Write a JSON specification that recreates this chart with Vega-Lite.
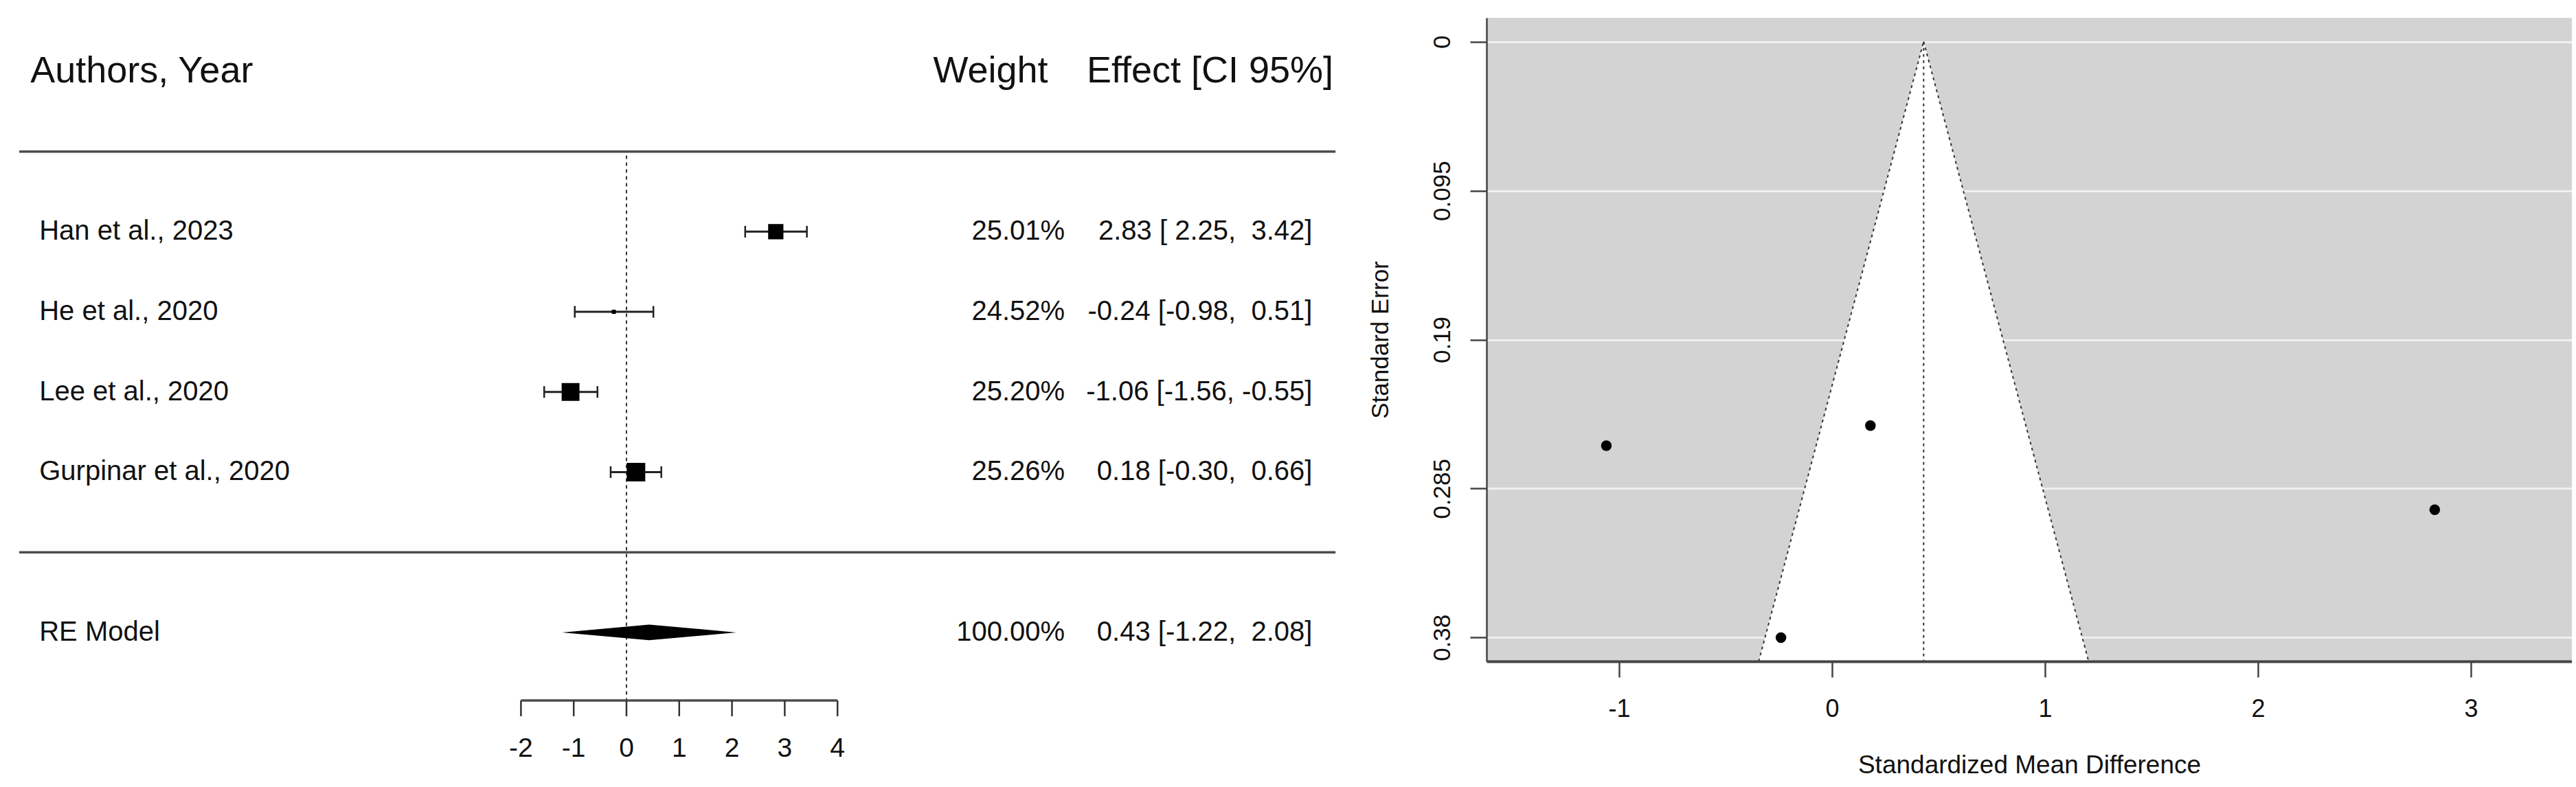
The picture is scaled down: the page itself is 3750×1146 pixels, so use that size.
{
  "$schema": "https://vega.github.io/schema/vega-lite/v6.json",
  "padding": {"top": 26, "left": 0, "right": 0, "bottom": 0},
  "background": "#ffffff",
  "datasets": {
    "studies": [
      {"study": "Han et al., 2023", "row": 4, "yi": 2.83, "lb": 2.25, "ub": 3.42, "sei": 0.2985, "weight": 25.01, "wlabel": "25.01%", "ci": "2.83 [\u00a02.25,\u00a0\u00a03.42]"},
      {"study": "He et al., 2020", "row": 3, "yi": -0.24, "lb": -0.98, "ub": 0.51, "sei": 0.3801, "weight": 24.52, "wlabel": "24.52%", "ci": "-0.24 [-0.98,\u00a0\u00a00.51]"},
      {"study": "Lee et al., 2020", "row": 2, "yi": -1.06, "lb": -1.56, "ub": -0.55, "sei": 0.2577, "weight": 25.20, "wlabel": "25.20%", "ci": "-1.06 [-1.56, -0.55]"},
      {"study": "Gurpinar et al., 2020", "row": 1, "yi": 0.18, "lb": -0.30, "ub": 0.66, "sei": 0.2449, "weight": 25.26, "wlabel": "25.26%", "ci": "0.18 [-0.30,\u00a0\u00a00.66]"}
    ],
    "summary": [
      {"label": "RE Model", "row": -1, "est": 0.43, "lb": -1.22, "ub": 2.08, "wlabel": "100.00%", "ci": "0.43 [-1.22,\u00a0\u00a02.08]"}
    ],
    "headers": [
      {"col": "study", "label": "Authors, Year"},
      {"col": "weight", "label": "Weight"},
      {"col": "effect", "label": "Effect [CI 95%]"}
    ],
    "ticks": [
      {"t": -2, "label": "-2"}, {"t": -1, "label": "-1"}, {"t": 0, "label": "0"}, {"t": 1, "label": "1"},
      {"t": 2, "label": "2"}, {"t": 3, "label": "3"}, {"t": 4, "label": "4"}
    ],
    "funnel": [
      {"se": 0, "lo": 0.43, "hi": 0.43},
      {"se": 0.3952, "lo": -0.3446, "hi": 1.2046}
    ]
  },
  "hconcat": [
    {
      "width": 1950,
      "height": 1120,
      "view": {"stroke": null},
      "layer": [
        {
          "data": {"name": "headers"},
          "transform": [{"filter": "datum.col === 'study'"}],
          "mark": {"type": "text", "align": "left", "baseline": "middle", "fontSize": 54},
          "encoding": {
            "x": {"datum": -11.30, "type": "quantitative", "scale": {"domain": [-11.875, 13.516], "nice": false, "zero": false}, "axis": null},
            "y": {"datum": 6, "type": "quantitative", "scale": {"domain": [-2.929, 6.668], "nice": false, "zero": false}, "axis": null},
            "text": {"field": "label"}
          }
        },
        {
          "data": {"name": "headers"},
          "transform": [{"filter": "datum.col === 'weight'"}],
          "mark": {"type": "text", "align": "right", "baseline": "middle", "fontSize": 54},
          "encoding": {
            "x": {"datum": 7.99, "type": "quantitative", "scale": {"domain": [-11.875, 13.516], "nice": false, "zero": false}, "axis": null},
            "y": {"datum": 6, "type": "quantitative", "scale": {"domain": [-2.929, 6.668], "nice": false, "zero": false}, "axis": null},
            "text": {"field": "label"}
          }
        },
        {
          "data": {"name": "headers"},
          "transform": [{"filter": "datum.col === 'effect'"}],
          "mark": {"type": "text", "align": "right", "baseline": "middle", "fontSize": 54},
          "encoding": {
            "x": {"datum": 13.40, "type": "quantitative", "scale": {"domain": [-11.875, 13.516], "nice": false, "zero": false}, "axis": null},
            "y": {"datum": 6, "type": "quantitative", "scale": {"domain": [-2.929, 6.668], "nice": false, "zero": false}, "axis": null},
            "text": {"field": "label"}
          }
        },
        {
          "data": {"name": "headers"},
          "transform": [{"filter": "datum.col === 'study'"}],
          "mark": {"type": "rule", "color": "#4d4d4d", "strokeWidth": 3.5},
          "encoding": {
            "x": {"datum": -11.51, "type": "quantitative", "scale": {"domain": [-11.875, 13.516], "nice": false, "zero": false}, "axis": null},
            "x2": {"datum": 13.44},
            "y": {"datum": 5, "type": "quantitative", "scale": {"domain": [-2.929, 6.668], "nice": false, "zero": false}, "axis": null}
          }
        },
        {
          "data": {"name": "headers"},
          "transform": [{"filter": "datum.col === 'study'"}],
          "mark": {"type": "rule", "color": "#4d4d4d", "strokeWidth": 3.5},
          "encoding": {
            "x": {"datum": -11.51, "type": "quantitative", "scale": {"domain": [-11.875, 13.516], "nice": false, "zero": false}, "axis": null},
            "x2": {"datum": 13.44},
            "y": {"datum": 0, "type": "quantitative", "scale": {"domain": [-2.929, 6.668], "nice": false, "zero": false}, "axis": null}
          }
        },
        {
          "data": {"name": "headers"},
          "transform": [{"filter": "datum.col === 'study'"}],
          "mark": {"type": "rule", "color": "#333333", "strokeWidth": 2, "strokeDash": [5, 5]},
          "encoding": {
            "x": {"datum": 0, "type": "quantitative", "scale": {"domain": [-11.875, 13.516], "nice": false, "zero": false}, "axis": null},
            "y": {"datum": 4.95, "type": "quantitative", "scale": {"domain": [-2.929, 6.668], "nice": false, "zero": false}, "axis": null},
            "y2": {"datum": -1.849}
          }
        },
        {
          "data": {"name": "studies"},
          "mark": {"type": "text", "align": "left", "baseline": "middle", "fontSize": 40},
          "encoding": {
            "x": {"datum": -11.13, "type": "quantitative", "scale": {"domain": [-11.875, 13.516], "nice": false, "zero": false}, "axis": null},
            "y": {"field": "row", "type": "quantitative", "scale": {"domain": [-2.929, 6.668], "nice": false, "zero": false}, "axis": null},
            "text": {"field": "study"}
          }
        },
        {
          "data": {"name": "studies"},
          "mark": {"type": "text", "align": "right", "baseline": "middle", "fontSize": 40},
          "encoding": {
            "x": {"datum": 8.31, "type": "quantitative", "scale": {"domain": [-11.875, 13.516], "nice": false, "zero": false}, "axis": null},
            "y": {"field": "row", "type": "quantitative", "scale": {"domain": [-2.929, 6.668], "nice": false, "zero": false}, "axis": null},
            "text": {"field": "wlabel"}
          }
        },
        {
          "data": {"name": "studies"},
          "mark": {"type": "text", "align": "right", "baseline": "middle", "fontSize": 40},
          "encoding": {
            "x": {"datum": 13.0, "type": "quantitative", "scale": {"domain": [-11.875, 13.516], "nice": false, "zero": false}, "axis": null},
            "y": {"field": "row", "type": "quantitative", "scale": {"domain": [-2.929, 6.668], "nice": false, "zero": false}, "axis": null},
            "text": {"field": "ci"}
          }
        },
        {
          "data": {"name": "studies"},
          "mark": {"type": "rule", "color": "#222222", "strokeWidth": 3},
          "encoding": {
            "x": {"field": "lb", "type": "quantitative", "scale": {"domain": [-11.875, 13.516], "nice": false, "zero": false}, "axis": null},
            "x2": {"field": "ub"},
            "y": {"field": "row", "type": "quantitative", "scale": {"domain": [-2.929, 6.668], "nice": false, "zero": false}, "axis": null}
          }
        },
        {
          "data": {"name": "studies"},
          "mark": {"type": "point", "shape": "M0,-1L0,1", "filled": false, "stroke": "#222222", "strokeWidth": 2.5, "size": 289, "opacity": 1},
          "encoding": {
            "x": {"field": "lb", "type": "quantitative", "scale": {"domain": [-11.875, 13.516], "nice": false, "zero": false}, "axis": null},
            "y": {"field": "row", "type": "quantitative", "scale": {"domain": [-2.929, 6.668], "nice": false, "zero": false}, "axis": null}
          }
        },
        {
          "data": {"name": "studies"},
          "mark": {"type": "point", "shape": "M0,-1L0,1", "filled": false, "stroke": "#222222", "strokeWidth": 2.5, "size": 289, "opacity": 1},
          "encoding": {
            "x": {"field": "ub", "type": "quantitative", "scale": {"domain": [-11.875, 13.516], "nice": false, "zero": false}, "axis": null},
            "y": {"field": "row", "type": "quantitative", "scale": {"domain": [-2.929, 6.668], "nice": false, "zero": false}, "axis": null}
          }
        },
        {
          "data": {"name": "studies"},
          "mark": {"type": "point", "shape": "square", "filled": true, "color": "#000000", "opacity": 1},
          "encoding": {
            "x": {"field": "yi", "type": "quantitative", "scale": {"domain": [-11.875, 13.516], "nice": false, "zero": false}, "axis": null},
            "y": {"field": "row", "type": "quantitative", "scale": {"domain": [-2.929, 6.668], "nice": false, "zero": false}, "axis": null},
            "size": {"field": "weight", "type": "quantitative", "scale": {"domain": [24.52, 25.26], "range": [36, 729], "zero": false}, "legend": null}
          }
        },
        {
          "data": {"name": "summary"},
          "mark": {"type": "text", "align": "left", "baseline": "middle", "fontSize": 40},
          "encoding": {
            "x": {"datum": -11.13, "type": "quantitative", "scale": {"domain": [-11.875, 13.516], "nice": false, "zero": false}, "axis": null},
            "y": {"field": "row", "type": "quantitative", "scale": {"domain": [-2.929, 6.668], "nice": false, "zero": false}, "axis": null},
            "text": {"field": "label"}
          }
        },
        {
          "data": {"name": "summary"},
          "mark": {"type": "text", "align": "right", "baseline": "middle", "fontSize": 40},
          "encoding": {
            "x": {"datum": 8.31, "type": "quantitative", "scale": {"domain": [-11.875, 13.516], "nice": false, "zero": false}, "axis": null},
            "y": {"field": "row", "type": "quantitative", "scale": {"domain": [-2.929, 6.668], "nice": false, "zero": false}, "axis": null},
            "text": {"field": "wlabel"}
          }
        },
        {
          "data": {"name": "summary"},
          "mark": {"type": "text", "align": "right", "baseline": "middle", "fontSize": 40},
          "encoding": {
            "x": {"datum": 13.0, "type": "quantitative", "scale": {"domain": [-11.875, 13.516], "nice": false, "zero": false}, "axis": null},
            "y": {"field": "row", "type": "quantitative", "scale": {"domain": [-2.929, 6.668], "nice": false, "zero": false}, "axis": null},
            "text": {"field": "ci"}
          }
        },
        {
          "data": {"name": "summary"},
          "mark": {"type": "point", "shape": "M-1,0L0,-0.0905L1,0L0,0.0905Z", "filled": true, "color": "#000000", "size": 64212, "opacity": 1, "strokeWidth": 0},
          "encoding": {
            "x": {"field": "est", "type": "quantitative", "scale": {"domain": [-11.875, 13.516], "nice": false, "zero": false}, "axis": null},
            "y": {"field": "row", "type": "quantitative", "scale": {"domain": [-2.929, 6.668], "nice": false, "zero": false}, "axis": null}
          }
        },
        {
          "data": {"name": "headers"},
          "transform": [{"filter": "datum.col === 'study'"}],
          "mark": {"type": "rule", "color": "#4d4d4d", "strokeWidth": 3.5},
          "encoding": {
            "x": {"datum": -2, "type": "quantitative", "scale": {"domain": [-11.875, 13.516], "nice": false, "zero": false}, "axis": null},
            "x2": {"datum": 4},
            "y": {"datum": -1.849, "type": "quantitative", "scale": {"domain": [-2.929, 6.668], "nice": false, "zero": false}, "axis": null}
          }
        },
        {
          "data": {"name": "ticks"},
          "mark": {"type": "rule", "color": "#333333", "strokeWidth": 2.5},
          "encoding": {
            "x": {"field": "t", "type": "quantitative", "scale": {"domain": [-11.875, 13.516], "nice": false, "zero": false}, "axis": null},
            "y": {"datum": -1.849, "type": "quantitative", "scale": {"domain": [-2.929, 6.668], "nice": false, "zero": false}, "axis": null},
            "y2": {"datum": -2.046}
          }
        },
        {
          "data": {"name": "ticks"},
          "mark": {"type": "text", "align": "center", "baseline": "middle", "fontSize": 39},
          "encoding": {
            "x": {"field": "t", "type": "quantitative", "scale": {"domain": [-11.875, 13.516], "nice": false, "zero": false}, "axis": null},
            "y": {"datum": -2.449, "type": "quantitative", "scale": {"domain": [-2.929, 6.668], "nice": false, "zero": false}, "axis": null},
            "text": {"field": "label"}
          }
        }
      ]
    },
    {
      "width": 1580,
      "height": 937,
      "view": {"fill": "#d3d3d3", "stroke": null},
      "encoding": {
        "x": {
          "type": "quantitative",
          "scale": {"domain": [-1.6226, 3.474], "nice": false, "zero": false},
          "axis": {
            "title": "Standardized Mean Difference",
            "values": [-1, 0, 1, 2, 3], "labelExpr": "'' + datum.value",
            "labelFontSize": 36, "titleFontSize": 37, "titleFontWeight": "normal",
            "labelPadding": 29, "tickSize": 23, "titlePadding": 46,
            "grid": false,
            "domainColor": "#444444", "domainWidth": 4, "tickColor": "#444444", "tickWidth": 2.5,
            "labelColor": "#111111", "titleColor": "#111111", "labelFlush": false, "labelOverlap": false, "zindex": 1
          }
        },
        "y": {
          "type": "quantitative",
          "scale": {"domain": [-0.0152, 0.3952], "reverse": true, "nice": false, "zero": false},
          "axis": {
            "title": "Standard Error",
            "values": [0, 0.095, 0.19, 0.285, 0.38], "labelExpr": "'' + datum.value",
            "labelAngle": 270, "labelAlign": "center", "labelBaseline": "bottom",
            "labelFontSize": 35, "titleFontSize": 35, "titleFontWeight": "normal",
            "labelPadding": 23, "tickSize": 24, "titlePadding": 55,
            "grid": true, "gridColor": "#f0f0f0", "gridWidth": 3, "gridOpacity": 1,
            "domainColor": "#444444", "domainWidth": 2.5, "tickColor": "#444444", "tickWidth": 2.5,
            "labelColor": "#111111", "titleColor": "#111111", "labelFlush": false, "labelOverlap": false
          }
        }
      },
      "layer": [
        {
          "data": {"name": "funnel"},
          "mark": {"type": "area", "orient": "horizontal", "fill": "#ffffff", "opacity": 1},
          "encoding": {
            "y": {"field": "se"},
            "x": {"field": "lo"},
            "x2": {"field": "hi"}
          }
        },
        {
          "data": {"name": "funnel"},
          "mark": {"type": "line", "color": "#333333", "strokeWidth": 2, "strokeDash": [4, 5]},
          "encoding": {
            "x": {"field": "lo"},
            "y": {"field": "se"}
          }
        },
        {
          "data": {"name": "funnel"},
          "mark": {"type": "line", "color": "#333333", "strokeWidth": 2, "strokeDash": [4, 5]},
          "encoding": {
            "x": {"field": "hi"},
            "y": {"field": "se"}
          }
        },
        {
          "data": {"name": "funnel"},
          "mark": {"type": "line", "color": "#333333", "strokeWidth": 2, "strokeDash": [4, 5]},
          "encoding": {
            "x": {"datum": 0.43},
            "y": {"field": "se"}
          }
        },
        {
          "data": {"name": "studies"},
          "mark": {"type": "point", "filled": true, "color": "#000000", "size": 240, "opacity": 1},
          "encoding": {
            "x": {"field": "yi"},
            "y": {"field": "sei"}
          }
        }
      ]
    }
  ],
  "spacing": 41,
  "config": {
    "font": "Liberation Sans",
    "text": {"font": "Liberation Sans", "color": "#111111"},
    "axis": {"labelFont": "Liberation Sans", "titleFont": "Liberation Sans"}
  }
}
